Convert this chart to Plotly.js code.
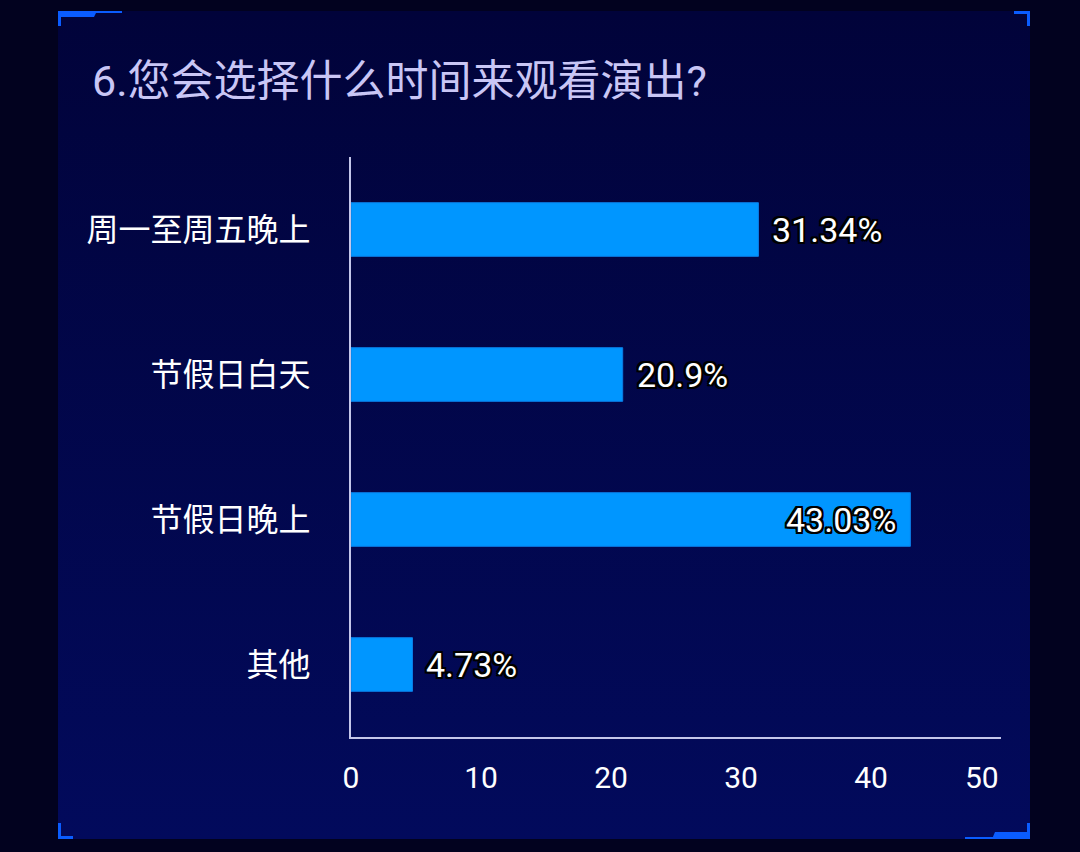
<!DOCTYPE html>
<html>
<head>
<meta charset="utf-8">
<script src="https://cdn.plot.ly/plotly-3.0.1.min.js"></script>
<style>
  html, body { margin:0; padding:0; width:1080px; height:852px; background:#02021f; overflow:hidden; }
  #panel { position:absolute; left:58px; top:11px; width:972px; height:828px;
           background:linear-gradient(to bottom, #01033a 0%, #020a5c 100%); }
  #deco { position:absolute; left:0; top:0; width:1080px; height:852px; }
  #chart { position:absolute; left:0; top:0; width:1080px; height:852px; }
</style>
</head>
<body>
<div id="panel"></div>
<svg id="deco" width="1080" height="852">
  <g fill="#0a5cff">
    <rect x="58" y="11" width="64" height="2"/>
    <polygon points="58,11 97,11 94,17 58,17"/>
    <rect x="58" y="11" width="3" height="15"/>
    <rect x="1014" y="11" width="16" height="3"/>
    <rect x="1027" y="11" width="3" height="15"/>
    <rect x="58" y="823" width="3" height="16"/>
    <rect x="58" y="836" width="15" height="3"/>
    <rect x="965" y="837" width="30" height="2"/>
    <polygon points="992,839 995,832 1030,832 1030,839"/>
    <rect x="1027" y="823" width="3" height="16"/>
  </g>
</svg>
<div id="chart"></div>
<script>
const categories = ['周一至周五晚上', '节假日白天', '节假日晚上', '其他'];
const values = [31.34, 20.9, 43.03, 4.73];
const valueLabels = ['31.34%', '20.9%', '43.03%', '4.73%'];
const labelInside = [false, false, true, false];
const xTickVals = [0, 10, 20, 30, 40, 50];
const xTickText = ['0', '10', '20', '30', '40', ''];
const lastTickLabel = '50';

const outline = '-2px -2px 0 #000, 2px -2px 0 #000, -2px 2px 0 #000, 2px 2px 0 #000, 0 2px 0 #000, 2px 0 0 #000, 0 -2px 0 #000, -2px 0 0 #000';

const annotations = values.map((v, i) => ({
  x: v, y: categories[i], xref: 'x', yref: 'y',
  text: valueLabels[i], showarrow: false,
  xanchor: labelInside[i] ? 'right' : 'left',
  xshift: labelInside[i] ? -12 : 12,
  font: { family: 'Roboto, "Noto Sans CJK SC", sans-serif', size: 34, color: '#ffffff', shadow: outline }
}));
annotations.push({
  x: 50, y: 0, xref: 'x', yref: 'paper', yanchor: 'top', xanchor: 'right',
  yshift: -21, text: lastTickLabel, showarrow: false,
  font: { family: 'Roboto, sans-serif', size: 30, color: '#ffffff' }
});

const trace = {
  type: 'bar', orientation: 'h',
  x: values, y: categories,
  marker: { color: '#0096ff', line: { color: '#0a7ee6', width: 1 } },
  hoverinfo: 'none'
};

const layout = {
  width: 1080, height: 852,
  paper_bgcolor: 'rgba(0,0,0,0)', plot_bgcolor: 'rgba(0,0,0,0)',
  margin: { l: 351, r: 79, t: 157, b: 115 },
  showlegend: false,
  bargap: 0.63,
  title: {
    text: '6.您会选择什么时间来观看演出?',
    x: 92/1080, xref: 'container', xanchor: 'left',
    y: 1 - 81/852, yref: 'container', yanchor: 'middle',
    font: { family: 'Roboto, "Noto Sans CJK SC", sans-serif', size: 43, color: '#c9c6f5' }
  },
  xaxis: {
    range: [0, 50], tickvals: xTickVals, ticktext: xTickText,
    showgrid: false, zeroline: false,
    showline: true, linecolor: '#c4c6ea', linewidth: 2,
    ticks: '', ticklabelstandoff: 13,
    tickfont: { family: 'Roboto, sans-serif', size: 30, color: '#ffffff' },
    fixedrange: true
  },
  yaxis: {
    autorange: 'reversed', type: 'category',
    showgrid: false, zeroline: false,
    showline: true, linecolor: '#c4c6ea', linewidth: 2,
    ticks: '', ticklabelstandoff: 32,
    tickfont: { family: '"Noto Sans CJK SC", sans-serif', size: 32, color: '#ffffff' },
    fixedrange: true
  },
  annotations: annotations
};

Plotly.newPlot('chart', [trace], layout, { displayModeBar: false, staticPlot: true });
</script>
</body>
</html>
